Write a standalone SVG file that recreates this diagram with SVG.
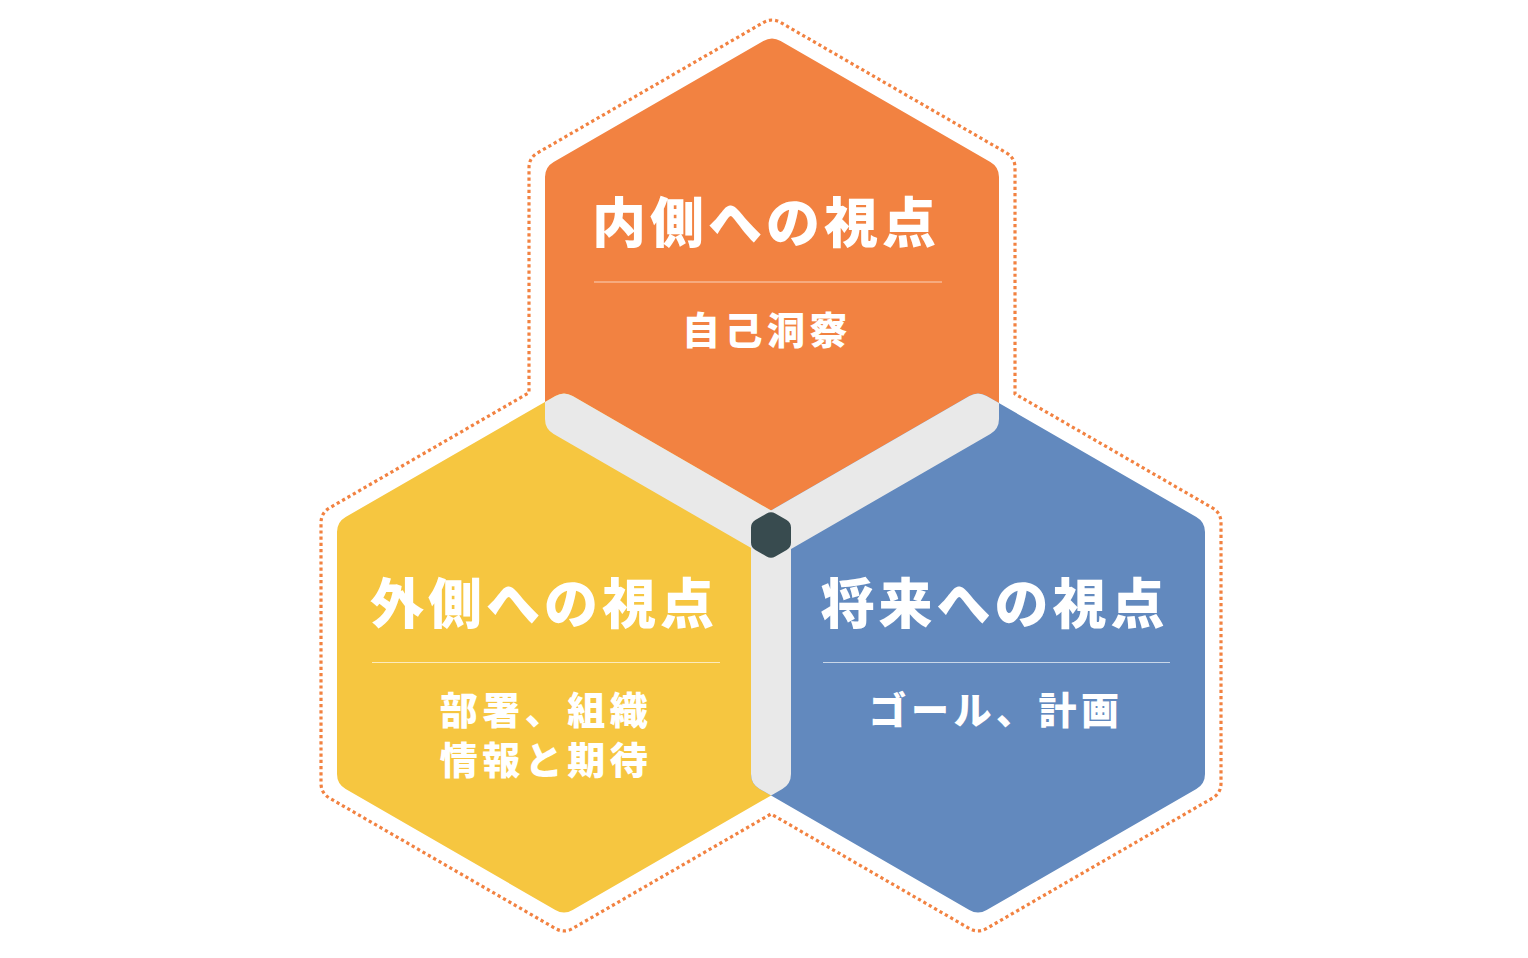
<svg xmlns="http://www.w3.org/2000/svg" width="1528" height="958" viewBox="0 0 1528 958">
<style>
.title{font-family:"Noto Sans CJK JP","Noto Sans CJK SC",sans-serif;font-weight:900;font-size:54px;fill:#FFFFFF;letter-spacing:4px;text-anchor:middle}
.sub{font-family:"Noto Sans CJK JP","Noto Sans CJK SC",sans-serif;font-weight:900;font-size:38px;fill:#FFFFFF;letter-spacing:4.5px;text-anchor:middle}
.div{stroke:#FFFFFF;stroke-opacity:0.65;stroke-width:1.2}
.gray{fill:#E9E9E9}
</style>
<defs>
<path id="hexO" d="M 780.66,41 L 990.34,162 Q 999,167 999,177 L 999,419 Q 999,429 990.34,434 L 780.66,555 Q 772,560 763.34,555 L 553.66,434 Q 545,429 545,419 L 545,177 Q 545,167 553.66,162 L 763.34,41 Q 772,36 780.66,41 Z"/>
<path id="hexY" d="M 572.66,396 L 782.34,517 Q 791,522 791,532 L 791,774 Q 791,784 782.34,789 L 572.66,910 Q 564,915 555.34,910 L 345.66,789 Q 337,784 337,774 L 337,532 Q 337,522 345.66,517 L 555.34,396 Q 564,391 572.66,396 Z"/>
<path id="hexB" d="M 986.66,396 L 1196.34,517 Q 1205,522 1205,532 L 1205,774 Q 1205,784 1196.34,789 L 986.66,910 Q 978,915 969.34,910 L 759.66,789 Q 751,784 751,774 L 751,532 Q 751,522 759.66,517 L 969.34,396 Q 978,391 986.66,396 Z"/>
<clipPath id="clipO"><use href="#hexO"/></clipPath>
<clipPath id="clipY"><use href="#hexY"/></clipPath>
</defs>
<rect width="1528" height="958" fill="#FFFFFF"/>
<path id="outline" d="M 537.66,152.82 L 763.34,22.52 Q 772,17.52 780.66,22.52 L 1006.34,152.82 Q 1015,157.82 1015,167.82 L 1015,393.89 L 1212.34,507.82 Q 1221,512.82 1221,522.82 L 1221,783.18 Q 1221,793.18 1212.34,798.18 L 986.66,928.47 Q 978,933.47 969.34,928.47 L 771,813.96 L 572.66,928.47 Q 564,933.47 555.34,928.47 L 329.66,798.17 Q 321,793.17 321,783.17 L 321,522.83 Q 321,512.83 329.66,507.83 L 529,392.74 L 529,167.82 Q 529,157.82 537.66,152.82 Z" fill="none" stroke="#F28241" stroke-width="3.2" stroke-dasharray="3.2 3"/>
<g id="node-inner">
<use href="#hexO" fill="#F28241"/>
</g>
<g id="node-outer">
<use href="#hexY" fill="#F6C640"/>
</g>
<g id="node-future">
<use href="#hexB" fill="#6289BE"/>
</g>
<g id="overlaps">
<use href="#hexY" class="gray" clip-path="url(#clipO)"/>
<use href="#hexB" class="gray" clip-path="url(#clipO)"/>
<use href="#hexB" class="gray" clip-path="url(#clipY)"/>
<path id="center" d="M 775.33,513.5 L 786.67,520 Q 791,522.5 791,527.5 L 791,542.5 Q 791,547.5 786.67,550 L 775.33,556.5 Q 771,559 766.67,556.5 L 755.33,550 Q 751,547.5 751,542.5 L 751,527.5 Q 751,522.5 755.33,520 L 766.67,513.5 Q 771,511 775.33,513.5 Z" fill="#384B4F"/>
</g>
<g id="label-inner">
<text class="title" x="766" y="243">内側への視点</text>
<line class="div" x1="594" y1="282" x2="942" y2="282"/>
<text class="sub" x="767" y="344">自己洞察</text>
</g>
<g id="label-outer">
<text class="title" x="544" y="624">外側への視点</text>
<line class="div" x1="372" y1="662.5" x2="720" y2="662.5"/>
<text class="sub" x="546" y="724">部署、組織</text>
<text class="sub" x="546" y="774">情報と期待</text>
</g>
<g id="label-future">
<text class="title" x="994.5" y="624">将来への視点</text>
<line class="div" x1="823" y1="662.5" x2="1170" y2="662.5"/>
<text class="sub" x="996" y="724">ゴール、計画</text>
</g>
</svg>
